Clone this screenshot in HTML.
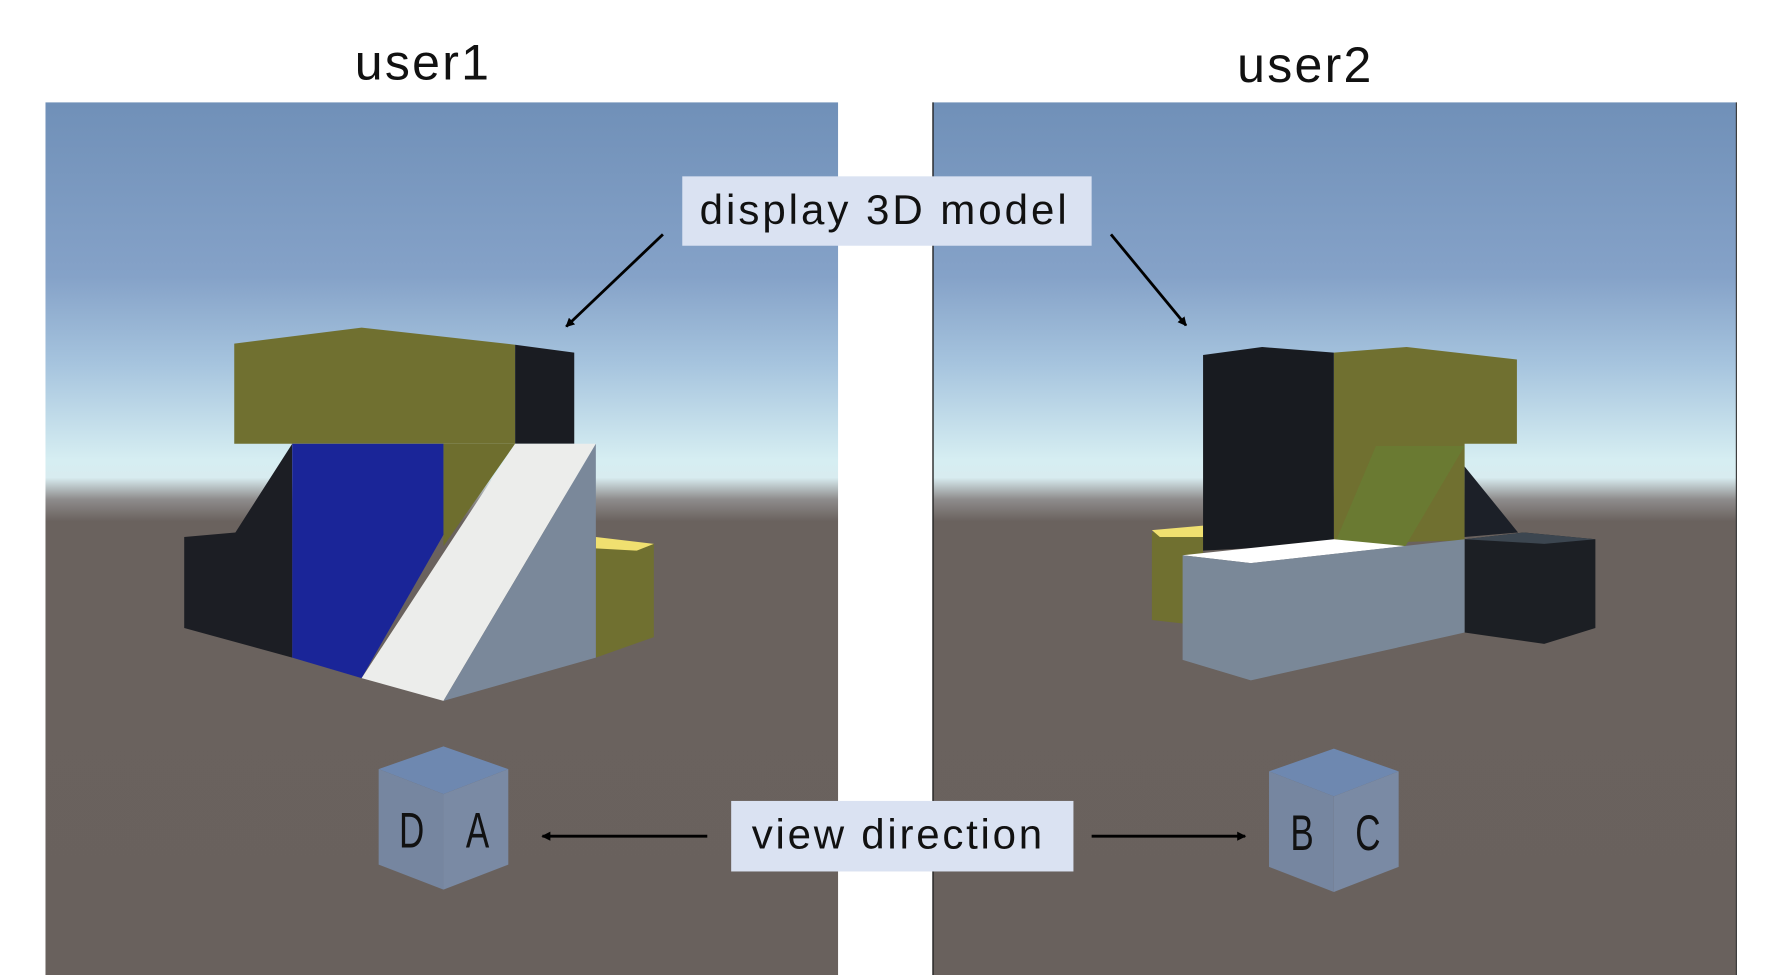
<!DOCTYPE html>
<html><head><style>html,body{margin:0;padding:0;background:#fff}svg{display:block}</style></head><body>
<svg width="1783" height="975" viewBox="0 0 1568 857" preserveAspectRatio="none" xmlns="http://www.w3.org/2000/svg">
<defs>
<linearGradient id="sky" x1="0" y1="90" x2="0" y2="857" gradientUnits="userSpaceOnUse">
<stop offset="0" stop-color="#7090b8"/>
<stop offset="0.2" stop-color="#85a2c8"/>
<stop offset="0.3" stop-color="#a6c4de"/>
<stop offset="0.41" stop-color="#d6eef2"/>
<stop offset="0.43" stop-color="#d8ecf0"/>
<stop offset="0.455" stop-color="#8e8c8c"/>
<stop offset="0.48" stop-color="#6a625e"/>
<stop offset="1" stop-color="#69615d"/>
</linearGradient>
<marker id="ah" markerWidth="8" markerHeight="8" refX="7" refY="4" orient="auto" markerUnits="userSpaceOnUse"><path d="M0,0 L8,4 L0,8 z" fill="#000"/></marker>
</defs>
<rect width="1568" height="857" fill="#fff"/>
<rect x="40" y="90" width="697" height="767" fill="url(#sky)"/>
<rect x="820" y="90" width="707" height="767" fill="url(#sky)"/>
<line x1="820.5" y1="90" x2="820.5" y2="857" stroke="#222" stroke-width="1.2"/>
<line x1="1527" y1="90" x2="1527" y2="857" stroke="#333" stroke-width="1"/>
<g font-family="Liberation Sans, sans-serif" fill="#111">
<text x="372" y="70" font-size="44" text-anchor="middle" letter-spacing="2">user1</text>
<text x="1148" y="72" font-size="44" text-anchor="middle" letter-spacing="2">user2</text>
</g>
<!-- left model -->
<polygon points="206,302 318,288 453,303 453,390 206,390" fill="#707030"/>
<polygon points="453,303 505,310 505,390 453,390" fill="#1a1c22"/>
<polygon points="162,472 207,468 257,390 257,578 162,552" fill="#1c1e24"/>
<polygon points="257,390 390,390 390,470 318,596 257,578" fill="#1a2598"/>
<polygon points="390,390 453,390 390,480" fill="#6e6e2e"/>
<polygon points="524,476 575,478 575,560 524,578" fill="#707030"/>
<polygon points="524,472 575,478 560,484 524,482" fill="#f0e070"/>
<polygon points="453,390 524,390 390,616 318,596" fill="#ecedeb"/>
<polygon points="524,390 524,578 390,616" fill="#7a889a"/>
<!-- right model -->
<polygon points="1013,468 1058,464 1058,550 1013,545" fill="#707030"/>
<polygon points="1013,466 1058,462 1058,472 1020,472" fill="#f0e070"/>
<polygon points="1173,310 1237,305 1334,316 1334,390 1288,390 1288,475 1173,478" fill="#707030"/>
<polygon points="1288,410 1335,468 1288,472" fill="#1c2028"/>
<polygon points="1210,392 1288,392 1236,480 1175,475" fill="#6a7a32"/>
<polygon points="1058,312 1110,305 1173,310 1173,478 1058,484" fill="#181b20"/>
<polygon points="1288,474 1340,468 1403,474 1403,552 1358,566 1288,556" fill="#1c1f24"/>
<polygon points="1288,474 1340,468 1403,474 1358,478" fill="#3c4650"/>
<polygon points="1040,488 1173,474 1236,480 1100,495" fill="#ffffff"/>
<polygon points="1040,488 1100,495 1288,474 1288,556 1100,598 1040,580" fill="#7a8898"/>
<!-- cubes -->
<polygon points="333,676 390,656 447,676 390,698" fill="#6e88b0"/>
<polygon points="333,676 390,698 390,782 333,760" fill="#7686a0"/>
<polygon points="390,698 447,676 447,760 390,782" fill="#7a8aa4"/>
<polygon points="1116,678 1173,658 1230,678 1173,700" fill="#6e88b0"/>
<polygon points="1116,678 1173,700 1173,784 1116,762" fill="#7686a0"/>
<polygon points="1173,700 1230,678 1230,762 1173,784" fill="#7a8aa4"/>
<g font-family="Liberation Sans, sans-serif" fill="#111" font-size="44">
<text x="362" y="745" text-anchor="middle" transform="translate(362 728) scale(0.7 1) translate(-362 -728)">D</text>
<text x="420" y="745" text-anchor="middle" transform="translate(420 728) scale(0.7 1) translate(-420 -728)">A</text>
<text x="1145" y="747" text-anchor="middle" transform="translate(1145 730) scale(0.7 1) translate(-1145 -730)">B</text>
<text x="1203" y="747" text-anchor="middle" transform="translate(1203 730) scale(0.7 1) translate(-1203 -730)">C</text>
</g>
<!-- labels -->
<rect x="600" y="155" width="360" height="61" fill="#dae2f2"/>
<text x="778" y="197" font-family="Liberation Sans, sans-serif" font-size="37" text-anchor="middle" fill="#111" letter-spacing="2.6">display 3D model</text>
<rect x="643" y="704" width="301" height="62" fill="#dae2f2"/>
<text x="790" y="746" font-family="Liberation Sans, sans-serif" font-size="37" text-anchor="middle" fill="#111" letter-spacing="2.4">view direction</text>
<g stroke="#000" stroke-width="2.5" marker-end="url(#ah)">
<line x1="583" y1="206" x2="498" y2="287"/>
<line x1="977" y1="206" x2="1043" y2="286"/>
<line x1="622" y1="735" x2="477" y2="735"/>
<line x1="960" y1="735" x2="1095" y2="735"/>
</g>
</svg>
</body></html>
